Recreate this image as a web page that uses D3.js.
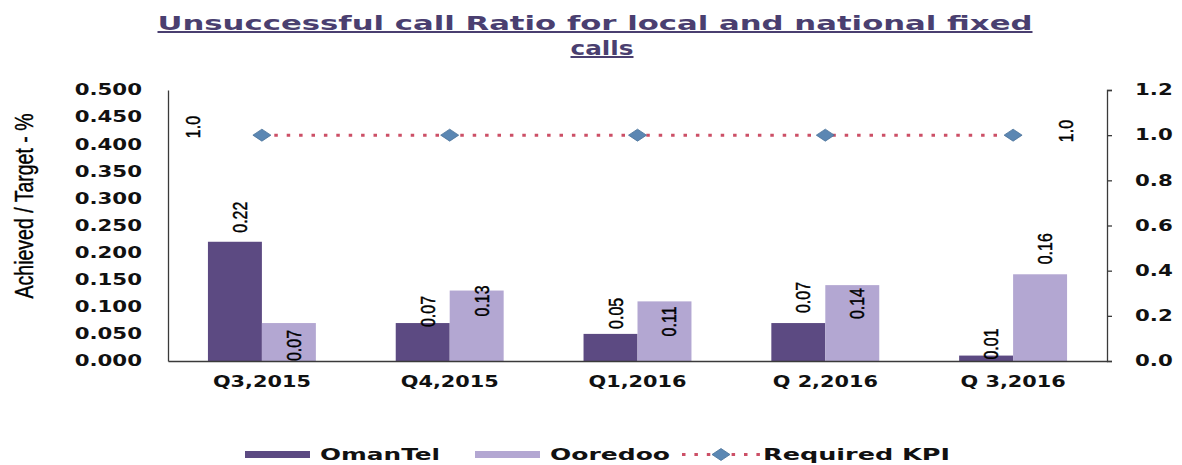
<!DOCTYPE html>
<html>
<head>
<meta charset="utf-8">
<script src="https://cdn.jsdelivr.net/npm/d3@7/dist/d3.min.js"></script>
<style>
  html, body { margin: 0; padding: 0; background: #ffffff; }
  svg { display: block; }
</style>
</head>
<body>
<script>
// ---------------- data ----------------
const categories = ["Q3,2015", "Q4,2015", "Q1,2016", "Q 2,2016", "Q 3,2016"];
const omantel = [0.22, 0.07, 0.05, 0.07, 0.01];
const ooredoo = [0.07, 0.13, 0.11, 0.14, 0.16];
const requiredKPI = [1.0, 1.0, 1.0, 1.0, 1.0];
const leftTicks = [0, 0.05, 0.1, 0.15, 0.2, 0.25, 0.3, 0.35, 0.4, 0.45, 0.5];
const rightTicks = [0, 0.2, 0.4, 0.6, 0.8, 1.0, 1.2];
const seriesNames = ["OmanTel", "Ooredoo", "Required KPI"];
const titleLines = ["Unsuccessful call Ratio for local and national fixed", "calls"];
const yTitle = "Achieved / Target - %";

// ---------------- layout / style ----------------
const W = 1182, H = 465;
const plot = { left: 168, right: 1107, top: 90, bottom: 361 };
const colors = { omantel: "#5c4a82", ooredoo: "#b3a7d2", kpiLine: "#cc4f66", kpiMarker: "#5b87b3", axis: "#3a3a3a", title: "#4a3f70" };
const boldFont = "'DejaVu Sans', sans-serif";
const narrowFont = "'Liberation Sans', Arial, sans-serif";
const SX = 1.3; // horizontal stretch of the rotated labels
// label bottom offsets (px) relative to bar top, as placed in the original
const labelDy = { OmanTel: [-9, 4, -5, -10, 4], Ooredoo: [38, 26, 35, 34, -10] };

const svg = d3.select("body").append("svg").attr("width", W).attr("height", H);

function fit(sel, target) {
  sel.attr("textLength", target).attr("lengthAdjust", "spacingAndGlyphs");
}
function stretch(sel, f) {
  sel.each(function () {
    const w = this.getComputedTextLength();
    d3.select(this).attr("textLength", w * f).attr("lengthAdjust", "spacingAndGlyphs");
  });
}

// ---------------- scales ----------------
const x = d3.scaleBand().domain(categories).range([plot.left, plot.right]).paddingInner(0).paddingOuter(0);
const xs = d3.scaleBand().domain(["OmanTel", "Ooredoo"]).range([0, x.bandwidth()]).paddingInner(0).paddingOuter(0.74);
const yL = d3.scaleLinear().domain([0, 0.5]).range([plot.bottom, plot.top]);
const yR = d3.scaleLinear().domain([0, 1.2]).range([plot.bottom, plot.top]);

// ---------------- title ----------------
const t1 = svg.append("text").attr("x", 595).attr("y", 30).attr("text-anchor", "middle")
  .attr("font-family", boldFont).attr("font-weight", "bold").attr("font-size", 20)
  .attr("fill", colors.title).attr("text-decoration", "underline").text(titleLines[0]);
fit(t1, 875);
const t2 = svg.append("text").attr("x", 602).attr("y", 55).attr("text-anchor", "middle")
  .attr("font-family", boldFont).attr("font-weight", "bold").attr("font-size", 20)
  .attr("fill", colors.title).attr("text-decoration", "underline").text(titleLines[1]);
fit(t2, 63);

// ---------------- bars ----------------
const rows = categories.map((c, i) => ({ cat: c, i, vals: [
  { key: "OmanTel", v: omantel[i], color: colors.omantel },
  { key: "Ooredoo", v: ooredoo[i], color: colors.ooredoo }
]}));

const groups = svg.append("g").selectAll("g").data(rows).join("g")
  .attr("transform", d => `translate(${x(d.cat)},0)`);

groups.selectAll("rect").data(d => d.vals).join("rect")
  .attr("x", d => xs(d.key))
  .attr("width", xs.bandwidth())
  .attr("y", d => yL(d.v))
  .attr("height", d => yL(0) - yL(d.v))
  .attr("fill", d => d.color);

// data labels (rotated)
groups.each(function (row) {
  const g = d3.select(this);
  row.vals.forEach(d => {
    const cx = xs(d.key) + xs.bandwidth() / 2 + 12;
    const by = yL(d.v) + labelDy[d.key][row.i];
    g.append("text")
      .attr("transform", `translate(${cx},${by}) scale(${SX},1) rotate(-90)`)
      .attr("font-family", narrowFont).attr("font-size", 16).attr("fill", "#000")
      .attr("stroke", "#000").attr("stroke-width", 0.35)
      .text(d3.format(".2f")(d.v));
  });
});

// ---------------- axes ----------------
const axL = svg.append("g").attr("transform", `translate(${plot.left},0)`)
  .call(d3.axisLeft(yL).tickValues(leftTicks).tickFormat(d3.format(".3f")).tickSize(0).tickSizeOuter(0).tickPadding(26));
axL.select(".domain").attr("stroke", colors.axis).attr("stroke-width", 1.3);
axL.selectAll("text").attr("font-family", boldFont).attr("font-weight", "bold").attr("font-size", 15).attr("fill", "#111");
stretch(axL.selectAll("text"), 1.42);

const axR = svg.append("g").attr("transform", `translate(${plot.right},0)`)
  .call(d3.axisRight(yR).tickValues(rightTicks).tickFormat(d3.format(".1f")).tickSize(5).tickSizeOuter(5).tickPadding(23));
axR.select(".domain").attr("stroke", colors.axis).attr("stroke-width", 1.3);
axR.selectAll("line").attr("stroke", colors.axis).attr("stroke-width", 1.3);
axR.selectAll("text").attr("font-family", boldFont).attr("font-weight", "bold").attr("font-size", 15).attr("fill", "#111");
stretch(axR.selectAll("text"), 1.42);

const axB = svg.append("g").attr("transform", `translate(0,${plot.bottom})`)
  .call(d3.axisBottom(x).tickSize(0).tickSizeOuter(0).tickPadding(15));
axB.select(".domain").attr("stroke", colors.axis).attr("stroke-width", 1.3);
axB.selectAll("text").attr("font-family", boldFont).attr("font-weight", "bold").attr("font-size", 16).attr("fill", "#111");
stretch(axB.selectAll("text"), 1.3);

// y title
svg.append("text")
  .attr("transform", `translate(33,${206}) scale(${SX},1) rotate(-90)`)
  .attr("text-anchor", "middle")
  .attr("font-family", narrowFont).attr("font-size", 19.5).attr("fill", "#000")
  .attr("stroke", "#000").attr("stroke-width", 0.3)
  .text(yTitle);

// ---------------- KPI line ----------------
const kpiPts = categories.map((c, i) => ({ c, v: requiredKPI[i] }));
svg.append("path").datum(kpiPts)
  .attr("fill", "none").attr("stroke", colors.kpiLine).attr("stroke-width", 3)
  .attr("stroke-dasharray", "3.5 8.9")
  .attr("d", d3.line().x(d => x(d.c) + x.bandwidth() / 2).y(d => yR(d.v)));

const diamond = (cx, cy) => `M${cx - 9},${cy} L${cx},${cy - 6} L${cx + 9},${cy} L${cx},${cy + 6} Z`;
svg.append("g").selectAll("path").data(kpiPts).join("path")
  .attr("d", d => diamond(x(d.c) + x.bandwidth() / 2, yR(d.v)))
  .attr("fill", colors.kpiMarker).attr("stroke", "#4a7299").attr("stroke-width", 0.8);

// KPI data labels at first and last points
const first = kpiPts[0], last = kpiPts[kpiPts.length - 1];
[[first, -62, 3], [last, 60, 7]].forEach(([d, dx, dy]) => {
  svg.append("text")
    .attr("transform", `translate(${x(d.c) + x.bandwidth() / 2 + dx},${yR(d.v) + dy}) scale(${SX},1) rotate(-90)`)
    .attr("font-family", narrowFont).attr("font-size", 16).attr("fill", "#000")
    .attr("stroke", "#000").attr("stroke-width", 0.35)
    .text(d3.format(".1f")(d.v));
});

// ---------------- legend ----------------
const lg = svg.append("g");
lg.append("rect").attr("x", 245).attr("y", 451).attr("width", 65).attr("height", 7).attr("fill", colors.omantel);
fit(lg.append("text").attr("x", 320).attr("y", 460).attr("font-family", boldFont).attr("font-weight", "bold")
  .attr("font-size", 16).attr("fill", "#111").text(seriesNames[0]), 120);
lg.append("rect").attr("x", 475).attr("y", 451).attr("width", 65).attr("height", 7).attr("fill", colors.ooredoo);
fit(lg.append("text").attr("x", 550).attr("y", 460).attr("font-family", boldFont).attr("font-weight", "bold")
  .attr("font-size", 16).attr("fill", "#111").text(seriesNames[1]), 120);
lg.append("line").attr("x1", 682).attr("x2", 760).attr("y1", 454.5).attr("y2", 454.5)
  .attr("stroke", colors.kpiLine).attr("stroke-width", 3).attr("stroke-dasharray", "3.5 8.9");
lg.append("path").attr("d", diamond(721, 454.5)).attr("fill", colors.kpiMarker).attr("stroke", "#4a7299").attr("stroke-width", 0.8);
fit(lg.append("text").attr("x", 763).attr("y", 460).attr("font-family", boldFont).attr("font-weight", "bold")
  .attr("font-size", 16).attr("fill", "#111").text(seriesNames[2]), 187);
</script>
</body>
</html>
